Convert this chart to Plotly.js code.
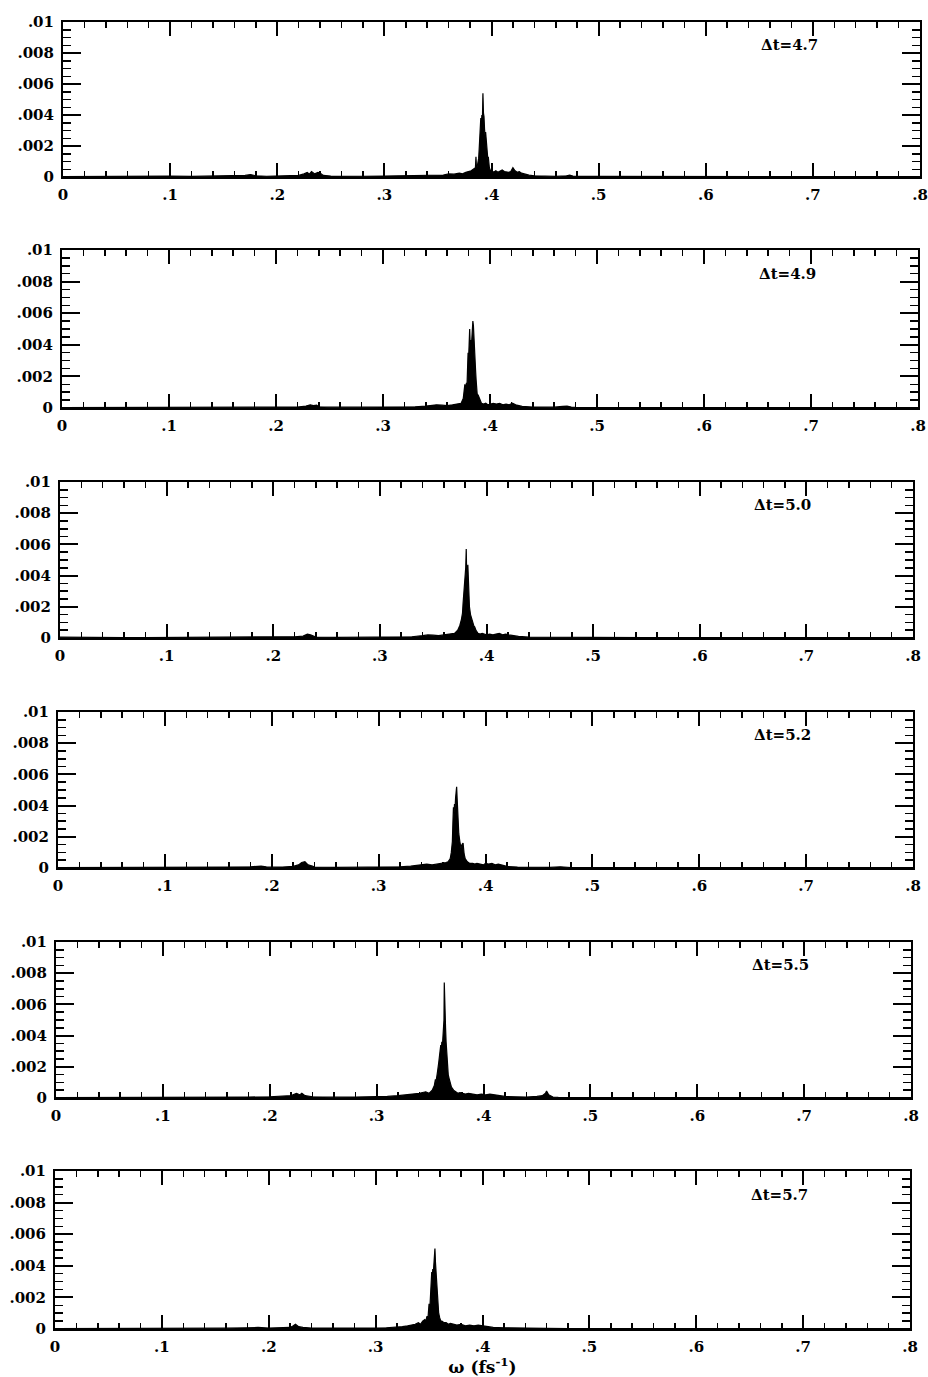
<!DOCTYPE html>
<html>
<head>
<meta charset="utf-8">
<script src="https://cdn.plot.ly/plotly-3.0.1.min.js"></script>
<style>html,body{margin:0;padding:0;background:#fff}#chart{width:928px;height:1377px}</style>
</head>
<body>
<div id="chart"></div>
<script>
// Tick labels
const xTickVals = [0, .1, .2, .3, .4, .5, .6, .7, .8];
const xTickText = ['0', '.1', '.2', '.3', '.4', '.5', '.6', '.7', '.8'];
const yTickVals = [0, .002, .004, .006, .008, .01];
const yTickText = ['0', '.002', '.004', '.006', '.008', '.01'];

// Panel labels
const panelLabels = ['\u0394t=4.7', '\u0394t=4.9', '\u0394t=5.0', '\u0394t=5.2', '\u0394t=5.5', '\u0394t=5.7'];

// Spectra: [omega (fs^-1), intensity]
const spec47 = [[0,.00003],[.02,.00004],[.04,.00003],[.06,.00004],[.08,.00003],[.10,.00006],[.12,.00004],[.14,.00005],[.16,.00006],[.17,.0001],[.175,.00016],[.18,.00008],[.19,.00005],[.20,.00006],[.21,.00005],[.22,.0001],[.225,.0002],[.228,.0003],[.23,.00018],[.232,.00035],[.235,.0002],[.238,.0003],[.24,.00025],[.243,.0001],[.25,.00006],[.26,.00005],[.28,.00005],[.30,.00006],[.32,.00008],[.33,.0001],[.34,.00012],[.345,.0001],[.35,.00015],[.355,.00013],[.36,.0002],[.365,.00018],[.37,.00025],[.373,.0002],[.376,.0003],[.379,.00035],[.381,.0004],[.383,.0005],[.385,.0006],[.3855,.0013],[.386,.0005],[.387,.0008],[.388,.0012],[.3885,.0018],[.389,.0025],[.3895,.0032],[.390,.0038],[.3905,.0033],[.391,.0040],[.3915,.0036],[.392,.0054],[.3925,.0041],[.393,.0039],[.3935,.0031],[.394,.0026],[.3945,.0029],[.395,.0024],[.3955,.0022],[.396,.0015],[.3965,.0012],[.397,.0013],[.3975,.0008],[.398,.0006],[.399,.0004],[.400,.00045],[.402,.0003],[.404,.0004],[.406,.0003],[.408,.00035],[.410,.00045],[.412,.00035],[.414,.0003],[.416,.0003],[.418,.00035],[.420,.0006],[.421,.0005],[.422,.0004],[.424,.0003],[.426,.00035],[.428,.00025],[.430,.0002],[.435,.00012],[.44,.00008],[.45,.00005],[.46,.00004],[.47,.00008],[.473,.00012],[.476,.00006],[.48,.00004],[.50,.00004],[.55,.00003],[.60,.00004],[.65,.00003],[.70,.00003],[.75,.00003],[.80,.00003]];

const spec49 = [[0,.00003],[.02,.00003],[.04,.00004],[.06,.00003],[.08,.00003],[.10,.00004],[.12,.00003],[.14,.00004],[.16,.00005],[.18,.00004],[.20,.00005],[.22,.00006],[.228,.00012],[.232,.0002],[.235,.00015],[.238,.00018],[.24,.00008],[.25,.00005],[.27,.00005],[.29,.00005],[.31,.00006],[.33,.00008],[.34,.00012],[.345,.00015],[.35,.0002],[.355,.00018],[.36,.00015],[.365,.0002],[.37,.00025],[.373,.0003],[.375,.0006],[.376,.0012],[.3765,.0015],[.377,.0011],[.378,.0016],[.3785,.0014],[.379,.0026],[.3795,.0035],[.380,.0031],[.3805,.0044],[.381,.0050],[.3815,.0040],[.382,.0043],[.3825,.0038],[.383,.0045],[.3835,.0047],[.384,.0055],[.3845,.0052],[.385,.0042],[.3855,.0036],[.386,.0030],[.3865,.0024],[.387,.0018],[.3875,.0012],[.388,.0009],[.389,.0008],[.390,.0006],[.391,.0004],[.392,.0003],[.394,.00025],[.396,.0003],[.398,.0002],[.400,.00025],[.403,.0003],[.406,.00025],[.409,.0003],[.412,.0002],[.415,.00025],[.418,.0002],[.421,.0003],[.424,.0002],[.427,.00015],[.43,.0001],[.44,.00006],[.45,.00004],[.46,.00005],[.468,.0001],[.472,.00012],[.476,.00006],[.48,.00004],[.50,.00003],[.55,.00003],[.60,.00003],[.65,.00003],[.70,.00003],[.75,.00003],[.80,.00003]];

const spec50 = [[0,.00005],[.01,.00004],[.02,.00003],[.04,.00003],[.06,.00003],[.08,.00003],[.10,.00004],[.12,.00003],[.14,.00004],[.16,.00004],[.18,.00005],[.20,.00005],[.22,.00008],[.228,.00012],[.232,.00025],[.235,.0002],[.238,.0001],[.24,.00006],[.26,.00004],[.28,.00004],[.30,.00005],[.32,.00006],[.33,.00008],[.34,.00015],[.345,.0002],[.35,.00018],[.355,.00015],[.36,.0002],[.365,.00025],[.37,.0003],[.373,.0005],[.375,.0008],[.3765,.0012],[.3775,.0016],[.378,.0022],[.3785,.0027],[.379,.0030],[.3795,.0033],[.380,.0040],[.3805,.0045],[.381,.0057],[.3815,.0038],[.382,.0043],[.3825,.0047],[.383,.0032],[.3835,.0026],[.384,.0020],[.385,.0015],[.386,.0012],[.387,.0010],[.388,.0008],[.389,.0007],[.390,.0005],[.392,.0003],[.394,.00025],[.396,.0003],[.398,.00025],[.400,.0002],[.403,.00025],[.406,.0002],[.409,.00025],[.412,.0003],[.415,.0002],[.418,.00025],[.421,.0002],[.425,.00015],[.43,.0001],[.44,.00005],[.46,.00004],[.47,.00008],[.475,.00006],[.48,.00003],[.50,.00003],[.55,.00003],[.60,.00003],[.65,.00003],[.70,.00003],[.75,.00003],[.80,.00003]];

const spec52 = [[0,.00003],[.02,.00003],[.04,.00004],[.06,.00003],[.08,.00004],[.10,.00005],[.12,.00004],[.14,.00005],[.16,.00006],[.18,.00008],[.19,.00012],[.195,.00007],[.20,.00005],[.21,.00006],[.22,.0001],[.225,.0002],[.228,.00035],[.231,.0004],[.234,.0002],[.238,.00012],[.24,.00006],[.26,.00004],[.28,.00005],[.30,.00005],[.32,.00008],[.33,.00012],[.335,.00015],[.34,.0002],[.345,.00025],[.35,.0002],[.355,.00025],[.36,.0003],[.363,.00035],[.365,.0004],[.367,.0006],[.368,.0010],[.369,.0017],[.3695,.0029],[.370,.0039],[.3705,.0035],[.371,.0041],[.3715,.0038],[.372,.0045],[.3725,.0049],[.373,.0052],[.3735,.0044],[.374,.0035],[.3745,.0028],[.375,.0022],[.376,.0017],[.377,.0013],[.378,.0015],[.379,.0016],[.380,.0009],[.381,.0006],[.383,.0004],[.385,.0003],[.388,.0003],[.39,.00025],[.392,.0003],[.395,.00025],[.398,.0002],[.40,.0003],[.403,.00025],[.406,.0003],[.409,.0002],[.412,.00025],[.415,.0002],[.418,.00015],[.42,.0001],[.43,.00006],[.44,.00004],[.46,.00004],[.47,.00008],[.475,.00005],[.48,.00003],[.50,.00003],[.55,.00003],[.60,.00003],[.65,.00003],[.70,.00005],[.72,.00003],[.75,.00003],[.80,.00003]];

const spec55 = [[0,.00003],[.02,.00003],[.04,.00004],[.06,.00003],[.08,.00003],[.10,.00004],[.12,.00004],[.14,.00005],[.16,.00005],[.18,.00006],[.20,.00008],[.21,.0001],[.22,.00015],[.225,.0003],[.228,.0002],[.23,.0003],[.233,.00015],[.24,.00008],[.25,.00006],[.26,.00005],[.28,.00006],[.30,.00008],[.31,.0001],[.32,.00015],[.325,.00018],[.33,.0002],[.335,.00025],[.34,.0003],[.343,.00035],[.346,.0004],[.349,.0003],[.352,.0005],[.354,.0008],[.355,.0012],[.3555,.0010],[.356,.0014],[.357,.0017],[.358,.0022],[.359,.0028],[.3595,.0031],[.360,.0034],[.3605,.0030],[.361,.0036],[.3615,.0033],[.362,.0040],[.3625,.0044],[.363,.0050],[.3633,.0074],[.3637,.0052],[.364,.0047],[.3645,.0045],[.365,.0036],[.3655,.0030],[.366,.0024],[.367,.0015],[.368,.0012],[.369,.0009],[.370,.0007],[.372,.0005],[.374,.0004],[.376,.0003],[.378,.00035],[.38,.0003],[.383,.00025],[.386,.0003],[.39,.00025],[.394,.0002],[.398,.00025],[.402,.0002],[.406,.00025],[.41,.0002],[.415,.00015],[.42,.0001],[.43,.00008],[.44,.00006],[.45,.0001],[.455,.00015],[.458,.0003],[.459,.00045],[.461,.0002],[.465,.00006],[.47,.00004],[.50,.00003],[.55,.00003],[.60,.00003],[.65,.00003],[.70,.00003],[.75,.00003],[.80,.00003]];

const spec57 = [[0,.00003],[.02,.00003],[.04,.00004],[.06,.00003],[.08,.00003],[.10,.00004],[.12,.00004],[.14,.00004],[.16,.00005],[.18,.00008],[.19,.0001],[.20,.00006],[.21,.00006],[.22,.0001],[.223,.0002],[.225,.0003],[.228,.00015],[.232,.0001],[.24,.00006],[.26,.00005],[.28,.00005],[.30,.00006],[.31,.00008],[.32,.0001],[.325,.00015],[.33,.0002],[.334,.00025],[.337,.0003],[.34,.0004],[.342,.0003],[.344,.0005],[.346,.0006],[.347,.0005],[.348,.0008],[.349,.0007],[.3495,.0012],[.350,.0016],[.3505,.0010],[.351,.0018],[.3515,.0025],[.352,.0030],[.3525,.0036],[.353,.0034],[.3535,.0038],[.354,.0036],[.3545,.0040],[.355,.0044],[.3555,.0051],[.356,.0042],[.3565,.0037],[.357,.0033],[.3575,.0028],[.358,.0020],[.3585,.0016],[.359,.0010],[.360,.0007],[.361,.0005],[.362,.0005],[.364,.0004],[.366,.0004],[.368,.0003],[.37,.00035],[.373,.0003],[.376,.00025],[.38,.0003],[.384,.0002],[.388,.00025],[.392,.0002],[.396,.00025],[.40,.0002],[.405,.00015],[.41,.0001],[.42,.00008],[.43,.00006],[.44,.00004],[.46,.00004],[.48,.00003],[.50,.00003],[.55,.00003],[.60,.00003],[.65,.00003],[.70,.00003],[.75,.00003],[.80,.00003]];

const spectra = [spec47, spec49, spec50, spec52, spec55, spec57];

// Panel frames in pixels (left, right, top, bottom)
const frames = [
  [63, 920, 22, 177],
  [62, 918, 250, 408],
  [60, 913, 482, 638],
  [58, 913, 712, 868],
  [56, 911, 942, 1098],
  [55, 910, 1171, 1329]
];

const W = 928, H = 1377;
const FONT = {family: 'DejaVu Serif, serif', size: 15, color: '#000', weight: 'bold'};
const TITLE_FONT = {family: 'DejaVu Serif, serif', size: 17, color: '#000', weight: 'bold'};

const traces = [];
const layout = {
  width: W, height: H,
  margin: {l: 0, r: 0, t: 0, b: 0},
  paper_bgcolor: '#fff', plot_bgcolor: '#fff',
  showlegend: false,
  font: FONT,
  annotations: []
};

spectra.forEach((s, i) => {
  const n = i === 0 ? '' : String(i + 1);
  traces.push({
    x: s.map(p => p[0]),
    y: s.map(p => p[1]),
    xaxis: 'x' + n, yaxis: 'y' + n,
    type: 'scatter', mode: 'lines',
    fill: 'tozeroy', fillcolor: '#000',
    line: {color: '#000', width: 1.2},
    hoverinfo: 'skip'
  });
  const f = frames[i];
  layout['xaxis' + n] = {
    domain: [f[0] / W, f[1] / W],
    anchor: 'y' + n,
    range: [0, 0.8],
    tickmode: 'array', tickvals: xTickVals, ticktext: xTickText,
    ticks: 'inside', ticklen: 14, tickwidth: 2, tickcolor: '#000',
    minor: {tick0: 0, dtick: 0.02, ticks: 'inside', ticklen: 6, tickwidth: 1.5, tickcolor: '#000', showgrid: false},
    showline: true, linewidth: 2, linecolor: '#000', mirror: 'ticks',
    showgrid: false, zeroline: false,
    tickfont: FONT, ticklabelstandoff: 3,
    fixedrange: true
  };
  layout['yaxis' + n] = {
    domain: [1 - f[3] / H, 1 - f[2] / H],
    anchor: 'x' + n,
    range: [0, 0.01],
    tickmode: 'array', tickvals: yTickVals, ticktext: yTickText,
    ticks: 'inside', ticklen: 18, tickwidth: 2, tickcolor: '#000',
    minor: {tick0: 0, dtick: 0.0005, ticks: 'inside', ticklen: 8, tickwidth: 1.5, tickcolor: '#000', showgrid: false},
    showline: true, linewidth: 2, linecolor: '#000', mirror: 'ticks',
    showgrid: false, zeroline: false,
    tickfont: FONT, ticklabelstandoff: 4,
    fixedrange: true
  };
  layout.annotations.push({
    text: panelLabels[i], xref: 'x' + n, yref: 'y' + n,
    x: 0.678, y: 0.0085, showarrow: false,
    font: FONT, xanchor: 'center', yanchor: 'middle'
  });
});

layout.xaxis6.title = {text: '\u03c9 (fs<sup>-1</sup>)', font: TITLE_FONT, standoff: 0};

Plotly.newPlot('chart', traces, layout, {staticPlot: true, displayModeBar: false});
</script>
</body>
</html>
